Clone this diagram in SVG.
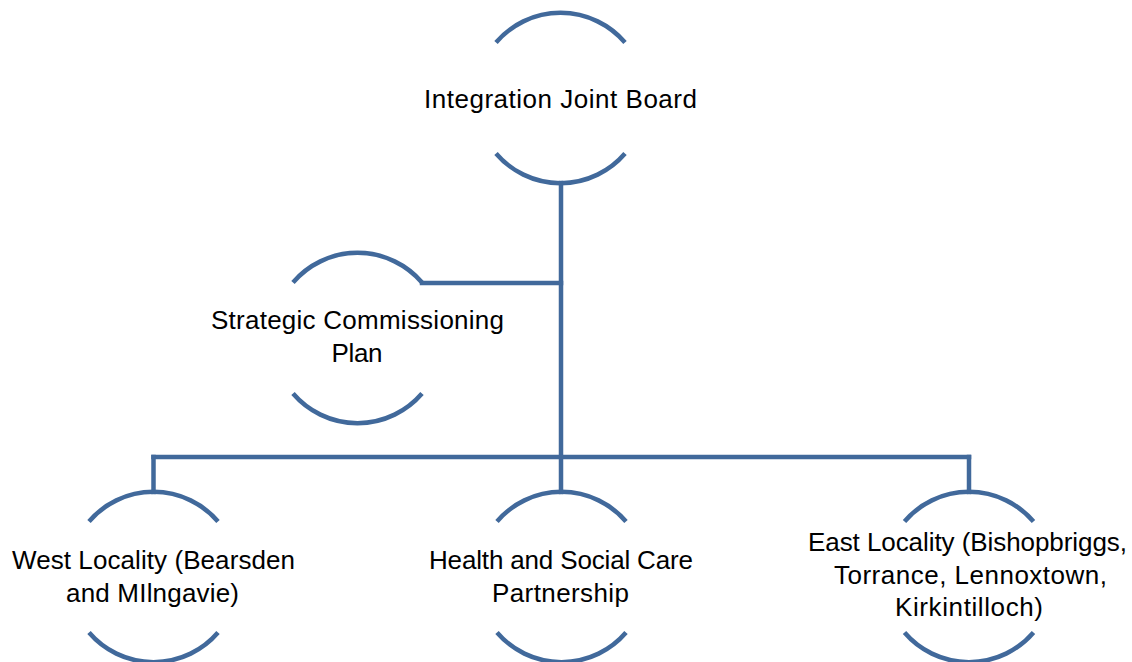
<svg xmlns="http://www.w3.org/2000/svg" width="1132" height="662" viewBox="0 0 1132 662">
<style>
.arc{fill:none;stroke:#41699b;stroke-width:4.5}
.ln{fill:none;stroke:#41699b;stroke-width:4.5;stroke-linecap:square}
text{font-family:"Liberation Sans",Arial,sans-serif;font-size:26px;fill:#000;text-anchor:middle}
</style>
<rect width="1132" height="662" fill="#fff"/>
<g id="connectors">
<path class="ln" d="M561 183 V492"/>
<path class="ln" d="M422 283 H561"/>
<path class="ln" d="M153.5 457 H969"/>
<path class="ln" d="M153.5 457 V492"/>
<path class="ln" d="M969 457 V492"/>
</g>
<g id="n-ijb">
<path class="arc" d="M496 42.5 A85 85 0 0 1 625 42.5"/>
<path class="arc" d="M496 153.5 A85 85 0 0 0 625 153.5"/>
<text x="560.5" y="108" textLength="273">Integration Joint Board</text>
</g>
<g id="n-scp">
<path class="arc" d="M293 282.5 A85 85 0 0 1 422 282.5"/>
<path class="arc" d="M293 393.5 A85 85 0 0 0 422 393.5"/>
<text x="357.5" y="329" textLength="293">Strategic Commissioning</text>
<text x="357" y="362" textLength="51">Plan</text>
</g>
<g id="n-west">
<path class="arc" d="M89 521.5 A85 85 0 0 1 218 521.5"/>
<path class="arc" d="M89 632.5 A85 85 0 0 0 218 632.5"/>
<text x="153.5" y="569" textLength="283">West Locality (Bearsden</text>
<text x="152.5" y="602" textLength="173">and MIlngavie)</text>
</g>
<g id="n-hscp">
<path class="arc" d="M497 521.5 A85 85 0 0 1 626 521.5"/>
<path class="arc" d="M497 632.5 A85 85 0 0 0 626 632.5"/>
<text x="561" y="569" textLength="264">Health and Social Care</text>
<text x="560.5" y="602" textLength="137">Partnership</text>
</g>
<g id="n-east">
<path class="arc" d="M904.5 521.5 A85 85 0 0 1 1033.5 521.5"/>
<path class="arc" d="M904.5 632.5 A85 85 0 0 0 1033.5 632.5"/>
<text x="967.5" y="551" textLength="319">East Locality (Bishopbriggs,</text>
<text x="970.5" y="583.5" textLength="273">Torrance, Lennoxtown,</text>
<text x="969" y="616" textLength="148">Kirkintilloch)</text>
</g>
</svg>
